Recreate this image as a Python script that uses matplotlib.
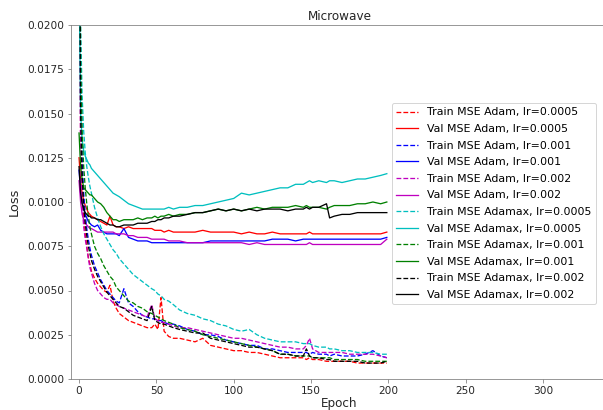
import matplotlib
matplotlib.use("Agg")
import matplotlib.pyplot as plt
from matplotlib.ticker import FormatStrFormatter

epochs = [0, 1, 2, 3, 4, 5, 6, 7, 8, 10, 12, 14, 16, 18, 20, 22, 24, 26, 29, 32, 35, 38,
          41, 44, 47, 49, 51, 53, 55, 58, 61, 65, 70, 75, 80, 85, 90, 95, 100, 105, 110,
          115, 120, 125, 130, 135, 140, 145, 147, 149, 151, 155, 160, 162, 165, 170, 175,
          180, 185, 190, 195, 199]

# Adam
train_adam_0005 = [0.0400, 0.0140, 0.0108, 0.0092, 0.0082, 0.0075, 0.0069, 0.0065, 0.0061, 0.0057,
                   0.0054, 0.0052, 0.0050, 0.0049, 0.0053, 0.0044, 0.0040, 0.0037, 0.0035, 0.0033,
                   0.0032, 0.0031, 0.0030, 0.0029, 0.0029, 0.0031, 0.0028, 0.0046, 0.0027, 0.0024,
                   0.0023, 0.0023, 0.0022, 0.0021, 0.0023, 0.0019, 0.0018, 0.0017, 0.0016, 0.0016,
                   0.0015, 0.0015, 0.0014, 0.0013, 0.0012, 0.0012, 0.0012, 0.0012, 0.0011, 0.0012,
                   0.0011, 0.0011, 0.0010, 0.0010, 0.0010, 0.0010, 0.0010, 0.0009, 0.0009, 0.0009,
                   0.0009, 0.0009]
val_adam_0005 = [0.0125, 0.0112, 0.0105, 0.0101, 0.0098, 0.0096, 0.0094, 0.0093, 0.0092, 0.0091,
                 0.0090, 0.0089, 0.0088, 0.0087, 0.0092, 0.0087, 0.0086, 0.0086, 0.0085, 0.0086,
                 0.0085, 0.0085, 0.0085, 0.0085, 0.0085, 0.0084, 0.0084, 0.0084, 0.0083, 0.0084,
                 0.0083, 0.0083, 0.0083, 0.0083, 0.0084, 0.0083, 0.0083, 0.0083, 0.0083, 0.0082,
                 0.0083, 0.0082, 0.0082, 0.0083, 0.0082, 0.0082, 0.0082, 0.0082, 0.0082, 0.0083,
                 0.0082, 0.0082, 0.0082, 0.0082, 0.0082, 0.0082, 0.0082, 0.0082, 0.0082, 0.0082,
                 0.0082, 0.0083]
train_adam_001 = [0.0300, 0.0176, 0.0125, 0.0105, 0.0093, 0.0085, 0.0079, 0.0074, 0.0070, 0.0064,
                  0.0060, 0.0056, 0.0053, 0.0050, 0.0048, 0.0046, 0.0044, 0.0043, 0.0051, 0.0043,
                  0.0041, 0.0038, 0.0036, 0.0035, 0.0034, 0.0034, 0.0033, 0.0033, 0.0032, 0.0031,
                  0.0031, 0.0030, 0.0028, 0.0027, 0.0025, 0.0025, 0.0024, 0.0022, 0.0021, 0.0020,
                  0.0019, 0.0019, 0.0017, 0.0017, 0.0016, 0.0015, 0.0015, 0.0015, 0.0015, 0.0014,
                  0.0015, 0.0014, 0.0014, 0.0013, 0.0014, 0.0013, 0.0013, 0.0013, 0.0014, 0.0016,
                  0.0013, 0.0012]
val_adam_001 = [0.0118, 0.0106, 0.0100, 0.0096, 0.0093, 0.0091, 0.0089, 0.0088, 0.0087, 0.0086,
                0.0087, 0.0084, 0.0083, 0.0082, 0.0082, 0.0082, 0.0082, 0.0081, 0.0085, 0.0080,
                0.0079, 0.0078, 0.0078, 0.0078, 0.0077, 0.0077, 0.0077, 0.0077, 0.0077, 0.0077,
                0.0077, 0.0077, 0.0077, 0.0077, 0.0077, 0.0078, 0.0078, 0.0078, 0.0078, 0.0078,
                0.0078, 0.0078, 0.0078, 0.0079, 0.0079, 0.0079, 0.0078, 0.0079, 0.0079, 0.0079,
                0.0079, 0.0079, 0.0079, 0.0079, 0.0079, 0.0079, 0.0079, 0.0079, 0.0079, 0.0079,
                0.0079, 0.0080]
train_adam_002 = [0.0260, 0.0125, 0.0098, 0.0086, 0.0079, 0.0074, 0.0068, 0.0063, 0.0060, 0.0054,
                  0.0050, 0.0048, 0.0046, 0.0045, 0.0045, 0.0043, 0.0042, 0.0041, 0.0040, 0.0039,
                  0.0038, 0.0037, 0.0036, 0.0035, 0.0042, 0.0034, 0.0033, 0.0032, 0.0032, 0.0031,
                  0.0030, 0.0029, 0.0029, 0.0028, 0.0027, 0.0026, 0.0025, 0.0024, 0.0023, 0.0023,
                  0.0022, 0.0021, 0.0020, 0.0019, 0.0018, 0.0018, 0.0017, 0.0017, 0.0019, 0.0023,
                  0.0017, 0.0015, 0.0015, 0.0015, 0.0015, 0.0015, 0.0014, 0.0014, 0.0014, 0.0014,
                  0.0013, 0.0012]
val_adam_002 = [0.0112, 0.0100, 0.0093, 0.0090, 0.0088, 0.0087, 0.0086, 0.0085, 0.0085, 0.0084,
                0.0083, 0.0083, 0.0083, 0.0083, 0.0083, 0.0083, 0.0082, 0.0082, 0.0082, 0.0081,
                0.0081, 0.0080, 0.0080, 0.0080, 0.0079, 0.0079, 0.0079, 0.0079, 0.0079, 0.0078,
                0.0078, 0.0078, 0.0077, 0.0077, 0.0077, 0.0077, 0.0077, 0.0077, 0.0077, 0.0077,
                0.0076, 0.0077, 0.0076, 0.0076, 0.0076, 0.0076, 0.0076, 0.0076, 0.0076, 0.0077,
                0.0076, 0.0076, 0.0076, 0.0076, 0.0076, 0.0076, 0.0076, 0.0076, 0.0076, 0.0076,
                0.0076, 0.0079]

# Adamax
train_adamax_0005 = [0.0450, 0.0200, 0.0160, 0.0140, 0.0128, 0.0120, 0.0114, 0.0109, 0.0105, 0.0097,
                     0.0091, 0.0086, 0.0082, 0.0079, 0.0076, 0.0073, 0.0071, 0.0068, 0.0065, 0.0062,
                     0.0059, 0.0057, 0.0055, 0.0053, 0.0051, 0.0050, 0.0048, 0.0047, 0.0045, 0.0044,
                     0.0042, 0.0039, 0.0037, 0.0036, 0.0034, 0.0033, 0.0031, 0.0030, 0.0028, 0.0027,
                     0.0028, 0.0025, 0.0023, 0.0022, 0.0021, 0.0021, 0.0021, 0.0020, 0.0020, 0.0020,
                     0.0019, 0.0018, 0.0018, 0.0017, 0.0017, 0.0016, 0.0016, 0.0015, 0.0015, 0.0015,
                     0.0014, 0.0014]
val_adamax_0005 = [0.0230, 0.0150, 0.0135, 0.0129, 0.0126, 0.0124, 0.0122, 0.0121, 0.0119, 0.0117,
                   0.0115, 0.0113, 0.0111, 0.0109, 0.0107, 0.0105, 0.0104, 0.0103, 0.0101, 0.0099,
                   0.0098, 0.0097, 0.0096, 0.0096, 0.0096, 0.0096, 0.0096, 0.0096, 0.0096, 0.0097,
                   0.0096, 0.0097, 0.0097, 0.0098, 0.0098, 0.0099, 0.0100, 0.0101, 0.0102, 0.0105,
                   0.0104, 0.0105, 0.0106, 0.0107, 0.0108, 0.0108, 0.0110, 0.0110, 0.0111, 0.0112,
                   0.0111, 0.0112, 0.0111, 0.0112, 0.0112, 0.0111, 0.0112, 0.0113, 0.0113, 0.0114,
                   0.0115, 0.0116]
train_adamax_001 = [0.0400, 0.0180, 0.0140, 0.0120, 0.0108, 0.0099, 0.0092, 0.0086, 0.0082, 0.0075,
                    0.0071, 0.0068, 0.0064, 0.0061, 0.0058, 0.0056, 0.0052, 0.0050, 0.0047, 0.0044,
                    0.0043, 0.0041, 0.0040, 0.0038, 0.0037, 0.0036, 0.0035, 0.0034, 0.0033, 0.0032,
                    0.0031, 0.0029, 0.0028, 0.0027, 0.0025, 0.0024, 0.0023, 0.0022, 0.0021, 0.0020,
                    0.0019, 0.0018, 0.0017, 0.0016, 0.0014, 0.0014, 0.0013, 0.0013, 0.0013, 0.0013,
                    0.0012, 0.0012, 0.0012, 0.0012, 0.0011, 0.0011, 0.0011, 0.0011, 0.0010, 0.0010,
                    0.0010, 0.0010]
val_adamax_001 = [0.0139, 0.0120, 0.0113, 0.0108, 0.0107, 0.0106, 0.0105, 0.0104, 0.0104, 0.0102,
                  0.0100, 0.0099, 0.0097, 0.0094, 0.0092, 0.0090, 0.0090, 0.0089, 0.0090, 0.0090,
                  0.0090, 0.0091, 0.0090, 0.0091, 0.0091, 0.0092, 0.0091, 0.0092, 0.0092, 0.0093,
                  0.0092, 0.0093, 0.0093, 0.0094, 0.0094, 0.0095, 0.0096, 0.0095, 0.0096, 0.0095,
                  0.0096, 0.0097, 0.0096, 0.0097, 0.0097, 0.0097, 0.0098, 0.0097, 0.0098, 0.0097,
                  0.0097, 0.0097, 0.0096, 0.0097, 0.0098, 0.0098, 0.0098, 0.0099, 0.0099, 0.0100,
                  0.0099, 0.0100]
train_adamax_002 = [0.0320, 0.0150, 0.0115, 0.0098, 0.0088, 0.0081, 0.0075, 0.0071, 0.0067, 0.0062,
                    0.0058, 0.0055, 0.0052, 0.0049, 0.0047, 0.0045, 0.0043, 0.0041, 0.0040, 0.0038,
                    0.0036, 0.0035, 0.0034, 0.0033, 0.0041, 0.0033, 0.0032, 0.0031, 0.0031, 0.0030,
                    0.0029, 0.0028, 0.0027, 0.0026, 0.0026, 0.0023, 0.0022, 0.0021, 0.0020, 0.0019,
                    0.0018, 0.0018, 0.0017, 0.0016, 0.0014, 0.0014, 0.0013, 0.0013, 0.0017, 0.0013,
                    0.0012, 0.0012, 0.0011, 0.0011, 0.0010, 0.0010, 0.0010, 0.0010, 0.0009, 0.0009,
                    0.0009, 0.0010]
val_adamax_002 = [0.0120, 0.0105, 0.0099, 0.0096, 0.0094, 0.0093, 0.0092, 0.0092, 0.0091, 0.0091,
                  0.0090, 0.0090, 0.0089, 0.0088, 0.0087, 0.0087, 0.0086, 0.0086, 0.0087, 0.0087,
                  0.0087, 0.0088, 0.0088, 0.0088, 0.0089, 0.0089, 0.0090, 0.0090, 0.0091, 0.0091,
                  0.0092, 0.0092, 0.0093, 0.0094, 0.0094, 0.0095, 0.0096, 0.0095, 0.0096, 0.0095,
                  0.0096, 0.0095, 0.0096, 0.0096, 0.0096, 0.0095, 0.0096, 0.0096, 0.0097, 0.0096,
                  0.0097, 0.0097, 0.0099, 0.0091, 0.0092, 0.0093, 0.0093, 0.0094, 0.0094, 0.0094,
                  0.0094, 0.0094]

series = [
    (train_adam_0005, 'r', '--', 'Train MSE Adam, lr=0.0005'),
    (val_adam_0005, 'r', '-', 'Val MSE Adam, lr=0.0005'),
    (train_adam_001, 'b', '--', 'Train MSE Adam, lr=0.001'),
    (val_adam_001, 'b', '-', 'Val MSE Adam, lr=0.001'),
    (train_adam_002, 'm', '--', 'Train MSE Adam, lr=0.002'),
    (val_adam_002, 'm', '-', 'Val MSE Adam, lr=0.002'),
    (train_adamax_0005, 'c', '--', 'Train MSE Adamax, lr=0.0005'),
    (val_adamax_0005, 'c', '-', 'Val MSE Adamax, lr=0.0005'),
    (train_adamax_001, 'g', '--', 'Train MSE Adamax, lr=0.001'),
    (val_adamax_001, 'g', '-', 'Val MSE Adamax, lr=0.001'),
    (train_adamax_002, 'k', '--', 'Train MSE Adamax, lr=0.002'),
    (val_adamax_002, 'k', '-', 'Val MSE Adamax, lr=0.002'),
]

fig = plt.figure(figsize=(603 / 72, 410 / 72), dpi=72)
ax = fig.add_axes([71 / 603, 31 / 410, 537 / 603, 354 / 410])

for vals, col, ls, label in series:
    ax.plot(epochs, vals, color=col, linestyle=ls, linewidth=1.3, label=label)

ax.set_xlim(-5.2, 342)
ax.set_ylim(0, 0.02)
ax.set_xticks(range(0, 301, 50))
ax.set_yticks([i * 0.0025 for i in range(9)])
ax.yaxis.set_major_formatter(FormatStrFormatter('%.4f'))
for s in ax.spines.values():
    s.set_color('0.5')
ax.tick_params(colors='#262626', labelsize=10.5, color='0.5')
ax.set_title('Microwave', fontsize=12, color='#262626', pad=5)
ax.set_xlabel('Epoch', fontsize=12, color='#262626', labelpad=1)
ax.set_ylabel('Loss', fontsize=13, color='#262626', labelpad=6)

fig.legend(loc='upper left', bbox_to_anchor=(392 / 603, 1 - 103 / 410),
           borderaxespad=0, fontsize=11, labelspacing=0.6)

fig.savefig('out.png', dpi=72)
